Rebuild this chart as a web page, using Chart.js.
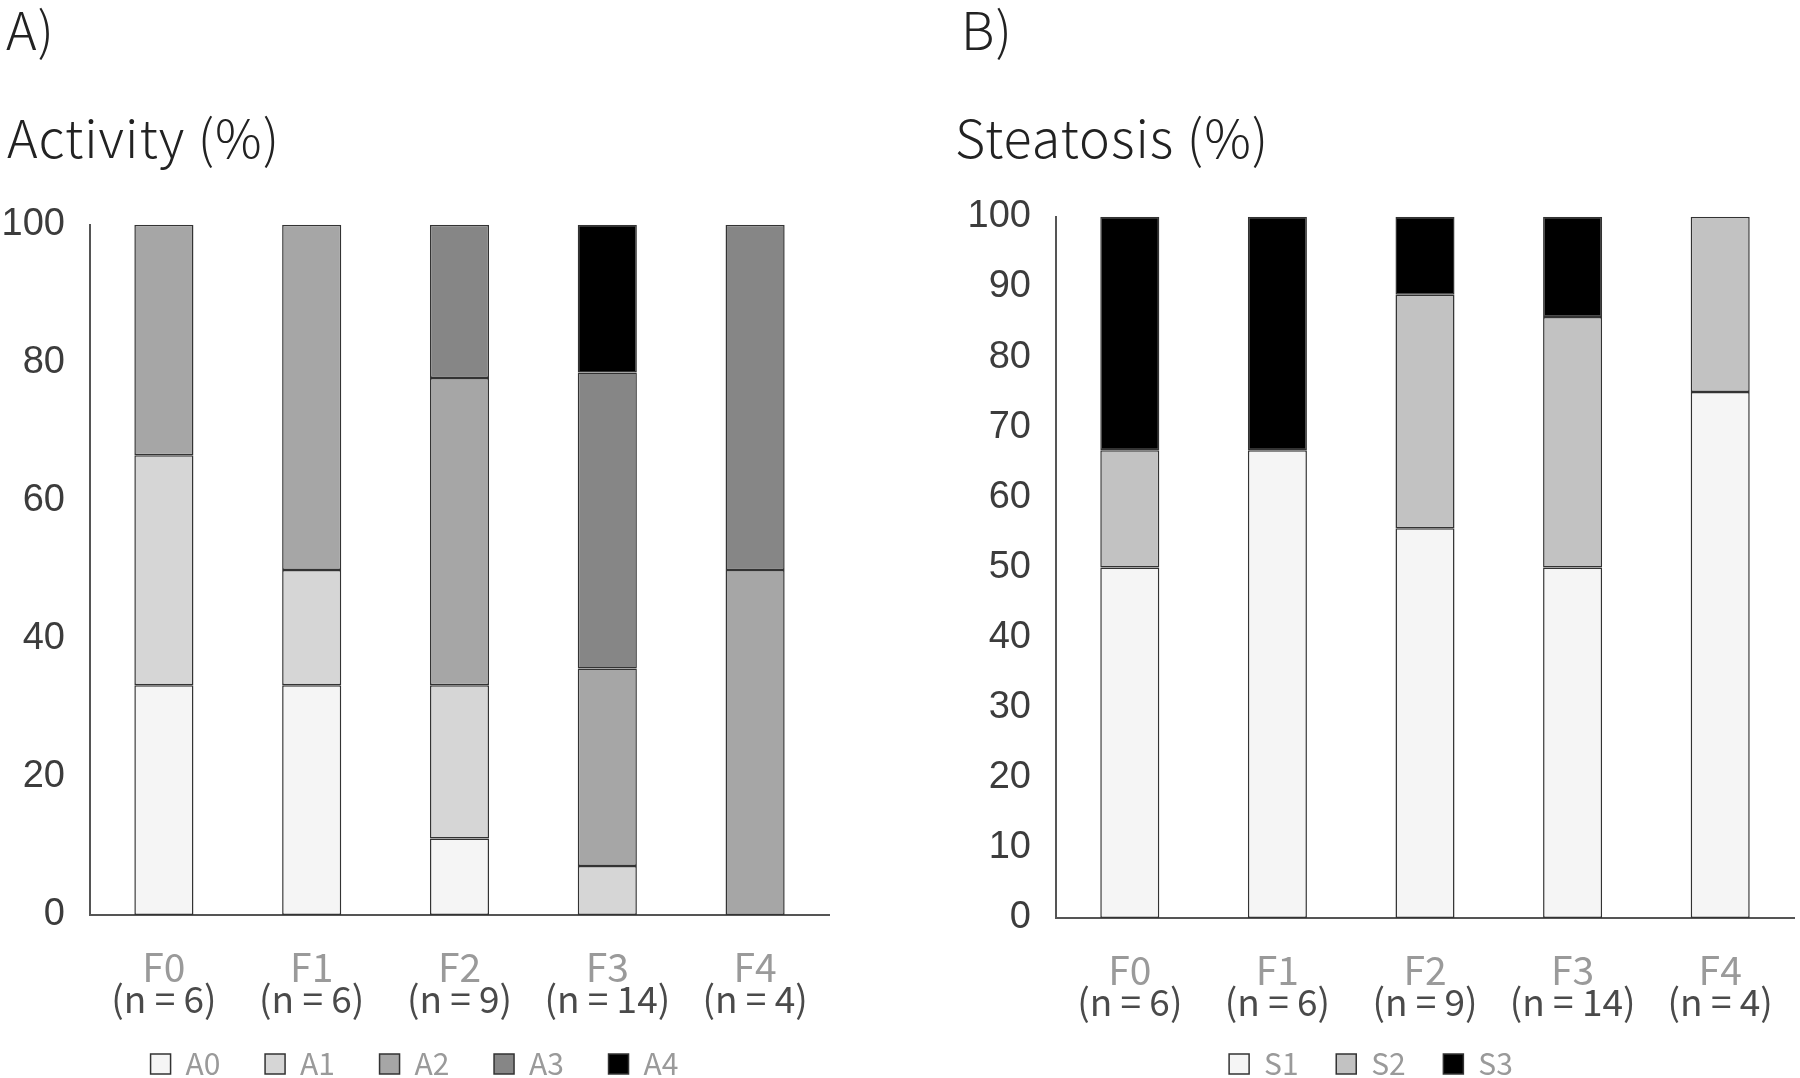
<!DOCTYPE html>
<html>
<head>
<meta charset="utf-8">
<script src="https://cdn.jsdelivr.net/npm/chart.js@4.4.1/dist/chart.umd.min.js"></script>
<style>
    html, body { margin: 0; padding: 0; background: #fff; overflow: hidden; }
    body { width: 1800px; height: 1078px; position: relative; }
    .txt { position: absolute; font-family: "Noto Sans CJK JP", "Noto Sans", sans-serif; font-weight: 300; font-size: 52px; letter-spacing: 1px; line-height: 1; color: #222; white-space: nowrap; }
    .box { position: absolute; }
    canvas { position: absolute; }
</style>
</head>
<body>
<div class="txt" style="left:6px; top:2px;">A)</div>
<div class="txt" style="left:7px; top:110px;">Activity (%)</div>
<div class="txt" style="left:961px; top:2px;">B)</div>
<div class="txt" style="left:955px; top:110px;">Steatosis (%)</div>
<div class="box" style="left:0; top:177px; width:880px; height:912px;"><canvas id="chartA"></canvas></div>
<div class="box" style="left:948px; top:169px; width:852px; height:920px;"><canvas id="chartB"></canvas></div>
<script>
var categories = ['F0', 'F1', 'F2', 'F3', 'F4'];
var sampleSizes = ['(n = 6)', '(n = 6)', '(n = 9)', '(n = 14)', '(n = 4)'];

// Activity grade, % of patients in each fibrosis stage
var activityNames = ['A0', 'A1', 'A2', 'A3', 'A4'];
var a0 = [33.3, 33.3, 11.1, 0, 0];
var a1 = [33.3, 16.7, 22.2, 7.1, 0];
var a2 = [33.4, 50.0, 44.5, 28.6, 50.0];
var a3 = [0, 0, 22.2, 42.9, 50.0];
var a4 = [0, 0, 0, 21.4, 0];
var activityColors = ['#f5f5f5', '#d6d6d6', '#a6a6a6', '#868686', '#000000'];

// Steatosis grade
var steatosisNames = ['S1', 'S2', 'S3'];
var s1 = [50.0, 66.7, 55.6, 50.0, 75.0];
var s2 = [16.7, 0, 33.3, 35.7, 25.0];
var s3 = [33.3, 33.3, 11.1, 14.3, 0];
var steatosisColors = ['#f5f5f5', '#c2c2c2', '#000000'];

var yTicksA = [0, 20, 40, 60, 80, 100];
var yTicksB = [0, 10, 20, 30, 40, 50, 60, 70, 80, 90, 100];

var labelFont = '"Noto Sans CJK JP", "Noto Sans", sans-serif';
var gap = '\u00a0\u00a0\u00a0\u00a0\u00a0';

function makeChart(id, names, series, colors, yTicks, axisWidth, rightPad, legendPad, nAxisHeight) {
    var datasets = [];
    for (var i = 0; i < names.length; i++) {
        datasets.push({
            label: names[i],
            data: series[i],
            backgroundColor: colors[i],
            borderColor: '#333333',
            borderWidth: 1.5,
            borderSkipped: false,
            categoryPercentage: 1,
            barPercentage: 0.4
        });
    }
    var ctx = document.getElementById(id).getContext('2d');
    return new Chart(ctx, {
        type: 'bar',
        data: { labels: categories, datasets: datasets },
        options: {
            responsive: true,
            maintainAspectRatio: false,
            animation: false,
            layout: { padding: { top: 47, left: 0, right: rightPad, bottom: 0 } },
            plugins: {
                tooltip: { enabled: false },
                legend: {
                    position: 'bottom',
                    labels: {
                        boxWidth: 20,
                        boxHeight: 20,
                        padding: legendPad,
                        color: '#9a9a9a',
                        font: { family: labelFont, size: 30 },
                        generateLabels: function(chart) {
                            var items = Chart.defaults.plugins.legend.labels.generateLabels(chart);
                            items.forEach(function(it, k) {
                                if (k < items.length - 1) it.text = it.text + gap;
                            });
                            return items;
                        }
                    }
                }
            },
            scales: {
                x: {
                    stacked: true,
                    offset: true,
                    grid: { display: false, drawTicks: false },
                    border: { display: true, color: '#555555', width: 2 },
                    ticks: { color: '#9a9a9a', padding: 29, font: { family: labelFont, size: 39 } },
                    afterFit: function(s) { s.height = 67; }
                },
                x2: {
                    type: 'category',
                    labels: sampleSizes,
                    position: 'bottom',
                    offset: true,
                    weight: 1,
                    grid: { display: false, drawTicks: false },
                    border: { display: false },
                    ticks: { color: '#4a4a4a', padding: -5, font: { family: labelFont, size: 37 } },
                    afterFit: function(s) { s.height = nAxisHeight; }
                },
                y: {
                    stacked: true,
                    min: 0,
                    max: 100,
                    afterBuildTicks: function(s) {
                        s.ticks = yTicks.map(function(v) { return { value: v }; });
                    },
                    grid: { display: false, drawTicks: false },
                    border: { display: true, color: '#555555', width: 2 },
                    ticks: {
                        autoSkip: false,
                        color: '#3c3c3c',
                        padding: 25,
                        font: { family: '"Liberation Sans", Arial, sans-serif', size: 38 }
                    },
                    afterFit: function(s) { s.width = axisWidth; }
                }
            }
        }
    });
}

var chartA = makeChart('chartA', activityNames, [a0, a1, a2, a3, a4], activityColors, yTicksA, 90, 51, 11, 56);
var chartB = makeChart('chartB', steatosisNames, [s1, s2, s3], steatosisColors, yTicksB, 108, 6, 4, 60);
</script>
</body>
</html>
